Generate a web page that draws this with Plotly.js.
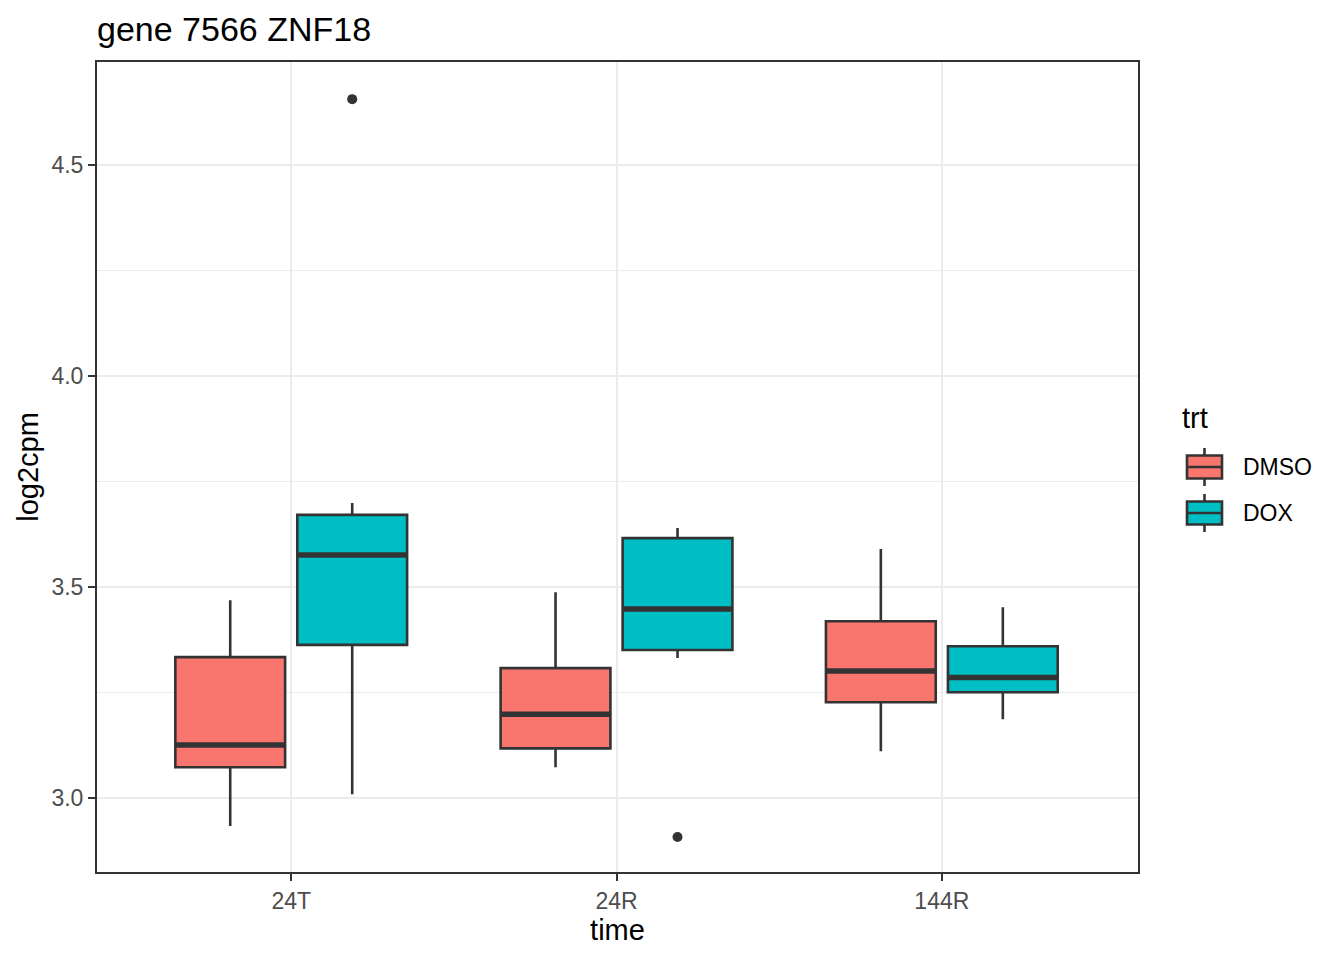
<!DOCTYPE html>
<html>
<head>
<meta charset="utf-8">
<script src="https://cdn.plot.ly/plotly-3.0.1.min.js"></script>
<style>html,body{margin:0;padding:0;background:#fff;}#chart{width:1344px;height:960px;}</style>
</head>
<body>
<div id="chart"></div>
<script>
// ---- data ----
const categories = ['24T', '24R', '144R'];
const groups = ['DMSO', 'DOX'];
const groupColors = ['#F8766D', '#00BFC4'];

const dmsoLower  = [2.934, 3.073, 3.111];
const dmsoQ1     = [3.073, 3.118, 3.227];
const dmsoMedian = [3.126, 3.199, 3.301];
const dmsoQ3     = [3.334, 3.308, 3.419];
const dmsoUpper  = [3.469, 3.488, 3.590];

const doxLower  = [3.009, 3.332, 3.187];
const doxQ1     = [3.363, 3.351, 3.251];
const doxMedian = [3.576, 3.448, 3.286];
const doxQ3     = [3.671, 3.616, 3.360];
const doxUpper  = [3.699, 3.640, 3.452];

// outliers: [category index, value]
const doxOutlierCat = [0, 1];
const doxOutlierVal = [4.656, 2.908];
const dmsoOutlierCat = [];
const dmsoOutlierVal = [];

// ---- layout helpers ----
const dodge = 0.375;      // slot width per group
const boxW = 0.3375;      // box width
const offsets = [-dodge / 2, dodge / 2];
const lineCol = '#333333';
const font = 'Liberation Sans, Arial, sans-serif';

// plot area in pixels (for the hand-drawn ggplot-style legend)
const M = {l: 97, r: 206, t: 62, b: 88};
const W = 1344, H = 960;
const pw = W - M.l - M.r, ph = H - M.t - M.b;
const px = v => (v - M.l) / pw;          // pixel x -> paper x
const py = v => (H - M.b - v) / ph;      // pixel y -> paper y

const stats = [
  {lower: dmsoLower, q1: dmsoQ1, med: dmsoMedian, q3: dmsoQ3, upper: dmsoUpper, oc: dmsoOutlierCat, ov: dmsoOutlierVal},
  {lower: doxLower, q1: doxQ1, med: doxMedian, q3: doxQ3, upper: doxUpper, oc: doxOutlierCat, ov: doxOutlierVal}
];

const traces = [];
const shapes = [];
const annotations = [];
stats.forEach((s, g) => {
  const xs = categories.map((c, i) => i + offsets[g]);
  traces.push({
    type: 'box',
    name: groups[g],
    x: xs,
    q1: s.q1, median: s.med, q3: s.q3,
    lowerfence: s.lower, upperfence: s.upper,
    width: boxW,
    whiskerwidth: 0,
    boxpoints: false,
    fillcolor: groupColors[g],
    line: {color: lineCol, width: 2.6},
    hoverinfo: 'skip',
    showlegend: false
  });
  // thick median bars
  s.med.forEach((m, i) => {
    shapes.push({
      type: 'line', xref: 'x', yref: 'y',
      x0: i + offsets[g] - boxW / 2, x1: i + offsets[g] + boxW / 2,
      y0: m, y1: m,
      line: {color: lineCol, width: 5.5}
    });
  });
  if (s.oc.length) {
    traces.push({
      type: 'scatter', mode: 'markers',
      x: s.oc.map(i => i + offsets[g]),
      y: s.ov,
      marker: {color: lineCol, size: 10},
      showlegend: false, hoverinfo: 'skip'
    });
  }

  // legend key (ggplot style): whisker, box, median line
  const cy = 467 + g * 46;
  const kx0 = 1187, kx1 = 1222, kxm = (kx0 + kx1) / 2;
  shapes.push({type: 'line', xref: 'paper', yref: 'paper',
    x0: px(kxm), x1: px(kxm), y0: py(cy - 19), y1: py(cy + 19),
    line: {color: lineCol, width: 2.6}});
  shapes.push({type: 'rect', xref: 'paper', yref: 'paper',
    x0: px(kx0), x1: px(kx1), y0: py(cy - 11.5), y1: py(cy + 11.5),
    fillcolor: groupColors[g], line: {color: lineCol, width: 2.6}});
  shapes.push({type: 'line', xref: 'paper', yref: 'paper',
    x0: px(kx0), x1: px(kx1), y0: py(cy), y1: py(cy),
    line: {color: lineCol, width: 2.6}});
  annotations.push({xref: 'paper', yref: 'paper', x: px(1241), y: py(cy),
    xanchor: 'left', yanchor: 'middle', showarrow: false, text: groups[g],
    font: {family: font, size: 23, color: '#000000'}});
});
annotations.push({xref: 'paper', yref: 'paper', x: px(1180), y: py(418),
  xanchor: 'left', yanchor: 'middle', showarrow: false, text: 'trt',
  font: {family: font, size: 29, color: '#000000'}});

const layout = {
  width: W, height: H,
  paper_bgcolor: '#ffffff', plot_bgcolor: '#ffffff',
  margin: M,
  showlegend: false,
  title: {
    text: 'gene 7566 ZNF18',
    font: {family: font, size: 34, color: '#000000'},
    xref: 'paper', x: 0, xanchor: 'left',
    yref: 'container', y: 1 - 29 / 960, yanchor: 'middle'
  },
  xaxis: {
    type: 'linear',
    range: [-0.597, 2.603],
    tickmode: 'array',
    tickvals: categories.map((c, i) => i),
    ticktext: categories,
    ticks: 'outside', ticklen: 7, tickwidth: 2, tickcolor: lineCol,
    tickfont: {family: font, size: 23, color: '#4D4D4D'},
    showgrid: true, gridcolor: '#EBEBEB', gridwidth: 2,
    zeroline: false,
    showline: true, mirror: true, linecolor: lineCol, linewidth: 2,
    title: {text: 'time', font: {family: font, size: 29, color: '#000000'}, standoff: 6},
    automargin: false
  },
  yaxis: {
    range: [2.825, 4.744],
    tick0: 3, dtick: 0.5, tickformat: '.1f',
    ticks: 'outside', ticklen: 7, tickwidth: 2, tickcolor: lineCol,
    tickfont: {family: font, size: 23, color: '#4D4D4D'},
    showgrid: true, gridcolor: '#EBEBEB', gridwidth: 2,
    minor: {dtick: 0.25, tick0: 3, showgrid: true, gridcolor: '#EBEBEB', gridwidth: 1, ticks: ''},
    zeroline: false,
    showline: true, mirror: true, linecolor: lineCol, linewidth: 2,
    title: {text: 'log2cpm', font: {family: font, size: 29, color: '#000000'}, standoff: 4},
    automargin: false
  },
  shapes: shapes,
  annotations: annotations
};

Plotly.newPlot('chart', traces, layout, {displayModeBar: false, staticPlot: true});
</script>
</body>
</html>
